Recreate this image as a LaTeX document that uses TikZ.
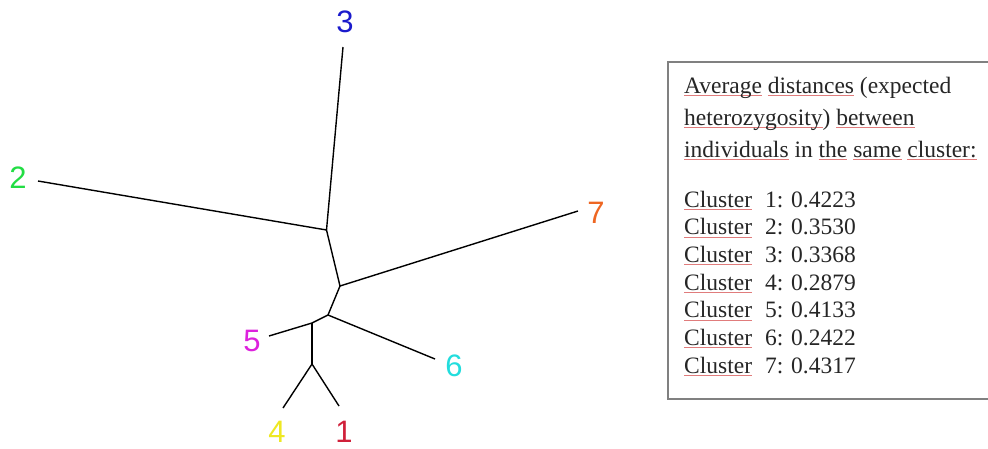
\documentclass[tikz,border=0pt]{standalone}
\usepackage{fontspec}
\setmainfont{Liberation Serif}
\newfontfamily\labfont{Liberation Sans}
\definecolor{splred}{HTML}{E07C7C}
\definecolor{cOne}{HTML}{D0203A}
\definecolor{cTwo}{HTML}{22DD44}
\definecolor{cThree}{HTML}{1A1ACC}
\definecolor{cFour}{HTML}{EEE822}
\definecolor{cFive}{HTML}{DD22DD}
\definecolor{cSix}{HTML}{22DDDD}
\definecolor{cSeven}{HTML}{EE6622}
% spell-check style underline
\newsavebox\splbox
\newcommand\spl[1]{\sbox\splbox{#1}\textcolor{splred}{\rlap{\rule[-2.6pt]{\wd\splbox}{0.8pt}}}\usebox\splbox}
\tikzset{
  branch/.style={draw=black, line width=1.4pt},
  leaflabel/.style={font=\labfont\fontsize{31}{31}\selectfont, inner sep=0pt},
  boxline/.style={anchor=base west, inner sep=0pt, text=black!85, font=\fontsize{23.5}{28}\selectfont},
}
\begin{document}
\begin{tikzpicture}[x=1pt, y=-1pt]
\clip (0,0) rectangle (988,448);
\fill[white] (0,0) rectangle (988,448);

% tree junctions and leaf ends
\coordinate (jA) at (326.5,230);
\coordinate (jB) at (340,286);
\coordinate (jC) at (328,315);
\coordinate (jD) at (312,323);
\coordinate (jE) at (312,364);
\coordinate (l3) at (343,47);
\coordinate (l2) at (38,181);
\coordinate (l7) at (578,211);
\coordinate (l6) at (435,359);
\coordinate (l5) at (269,336);
\coordinate (l4) at (283,408);
\coordinate (l1) at (339,406);

\draw[branch] (l2) -- (jA);
\draw[branch] (l3) -- (jA);
\draw[branch] (jA) -- (jB);
\draw[branch] (jB) -- (l7);
\draw[branch] (jB) -- (jC);
\draw[branch] (jC) -- (l6);
\draw[branch] (jC) -- (jD);
\draw[branch] (jD) -- (l5);
\draw[branch] (jD) -- (jE);
\draw[branch] (jE) -- (l4);
\draw[branch] (jE) -- (l1);

% cluster labels
\node[leaflabel, text=cThree] (t3) at (345,22) {3};
\node[leaflabel, text=cTwo] (t2) at (18,178) {2};
\node[leaflabel, text=cSeven] (t7) at (596,213) {7};
\node[leaflabel, text=cFive] (t5) at (252,341) {5};
\node[leaflabel, text=cSix] (t6) at (454,366) {6};
\node[leaflabel, text=cFour] (t4) at (277,432) {4};
\node[leaflabel, text=cOne] (t1) at (344,432) {1};

% legend box
\draw[draw=black!50, line width=1.8pt] (668,62) rectangle (1010,399);
\node[boxline] (h1) at (684,93) {\spl{Average} \spl{distances} (expected};
\node[boxline] (h2) at (684,125) {\spl{heterozygosity}) \spl{between}};
\node[boxline] (h3) at (684,157) {\spl{individuals} in \spl{the} \spl{same} \spl{cluster:}};
\foreach \k/\v [count=\i from 0] in {1/0.4223,2/0.3530,3/0.3368,4/0.2879,5/0.4133,6/0.2422,7/0.4317}{
  \node[boxline] (c\k) at (684,207+27.7*\i) {\spl{Cluster}\hspace{0.55em}\k: \v};
}
\end{tikzpicture}
\end{document}
